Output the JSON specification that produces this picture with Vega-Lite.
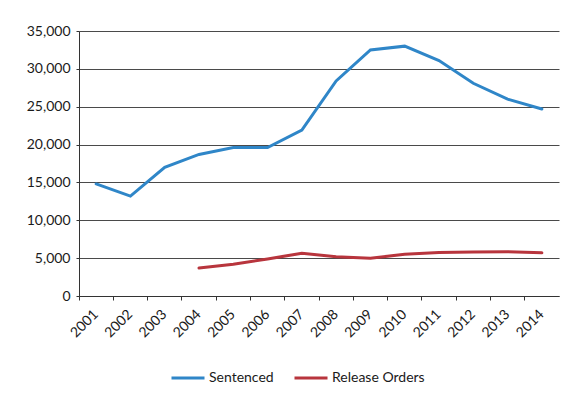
{
  "$schema": "https://vega.github.io/schema/vega-lite/v6.json",
  "autosize": {"type": "none"},
  "width": 480,
  "height": 265,
  "padding": {"left": 79, "top": 31, "right": 11, "bottom": 105},
  "background": "white",
  "config": {
    "font": "Lato",
    "view": {"stroke": null},
    "axis": {
      "labelFont": "Lato",
      "labelFontSize": 14,
      "labelColor": "#1a1a1a",
      "domainColor": "#333333",
      "tickColor": "#333333",
      "title": null
    },
    "legend": {
      "labelFont": "Lato",
      "labelFontSize": 14,
      "labelColor": "#1a1a1a"
    }
  },
  "data": {
    "values": [
      {"year": "2001", "series": "Sentenced", "count": 14800},
      {"year": "2002", "series": "Sentenced", "count": 13200},
      {"year": "2003", "series": "Sentenced", "count": 17000},
      {"year": "2004", "series": "Sentenced", "count": 18700},
      {"year": "2005", "series": "Sentenced", "count": 19600},
      {"year": "2006", "series": "Sentenced", "count": 19600},
      {"year": "2007", "series": "Sentenced", "count": 21900},
      {"year": "2008", "series": "Sentenced", "count": 28400},
      {"year": "2009", "series": "Sentenced", "count": 32500},
      {"year": "2010", "series": "Sentenced", "count": 33000},
      {"year": "2011", "series": "Sentenced", "count": 31100},
      {"year": "2012", "series": "Sentenced", "count": 28100},
      {"year": "2013", "series": "Sentenced", "count": 26000},
      {"year": "2014", "series": "Sentenced", "count": 24700},
      {"year": "2004", "series": "Release Orders", "count": 3700},
      {"year": "2005", "series": "Release Orders", "count": 4200},
      {"year": "2006", "series": "Release Orders", "count": 4900},
      {"year": "2007", "series": "Release Orders", "count": 5650},
      {"year": "2008", "series": "Release Orders", "count": 5200},
      {"year": "2009", "series": "Release Orders", "count": 5000},
      {"year": "2010", "series": "Release Orders", "count": 5500},
      {"year": "2011", "series": "Release Orders", "count": 5750},
      {"year": "2012", "series": "Release Orders", "count": 5800},
      {"year": "2013", "series": "Release Orders", "count": 5850},
      {"year": "2014", "series": "Release Orders", "count": 5700}
    ]
  },
  "mark": {"type": "line", "strokeWidth": 3, "strokeCap": "round"},
  "encoding": {
    "x": {
      "field": "year",
      "type": "ordinal",
      "scale": {"type": "band", "paddingInner": 0, "paddingOuter": 0},
      "axis": {
        "bandPosition": 0,
        "labelOffset": 0,
        "labelAngle": -45,
        "labelAlign": "right",
        "labelBaseline": "middle",
        "labelPadding": 12,
        "tickSize": 4,
        "grid": false
      }
    },
    "y": {
      "field": "count",
      "type": "quantitative",
      "scale": {"domain": [0, 35000], "nice": false},
      "axis": {
        "values": [0, 5000, 10000, 15000, 20000, 25000, 30000, 35000],
        "format": ",.0f",
        "tickSize": 3,
        "labelPadding": 6,
        "grid": true,
        "gridColor": "#4a4a4a",
        "gridWidth": 1
      }
    },
    "color": {
      "field": "series",
      "type": "nominal",
      "sort": ["Sentenced", "Release Orders"],
      "scale": {"domain": ["Sentenced", "Release Orders"], "range": ["#2f86c8", "#b8353d"]},
      "legend": {
        "title": null,
        "orient": "none",
        "direction": "horizontal",
        "legendX": 91,
        "legendY": 329,
        "symbolType": "stroke",
        "symbolSize": 1089,
        "symbolStrokeWidth": 3,
        "labelOffset": 3,
        "columnPadding": 14
      }
    }
  }
}
